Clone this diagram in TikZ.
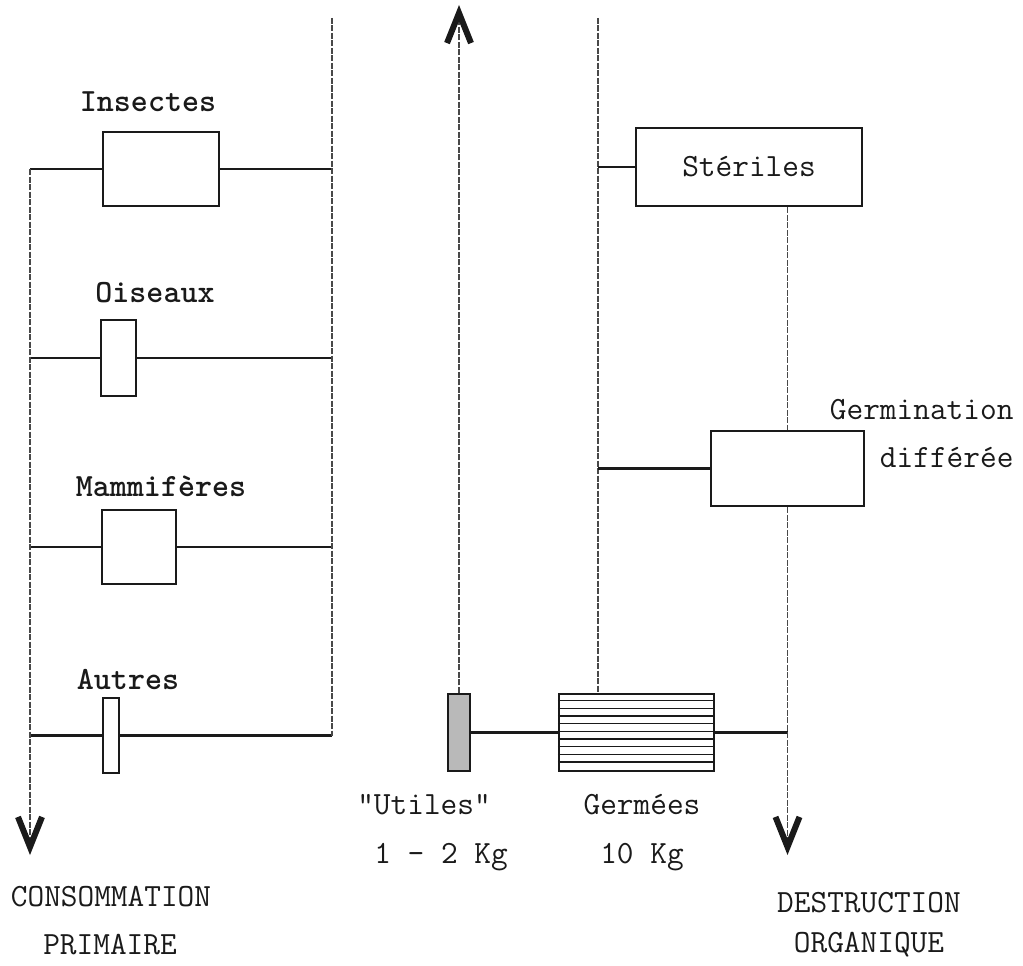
\documentclass[tikz,border=0pt]{standalone}
\usepackage{fontspec}
\usepackage{tikz}
\usetikzlibrary{arrows.meta}
\definecolor{ink}{HTML}{1A1A1A}
\begin{document}
\begin{tikzpicture}[x=1pt,y=-1pt,
  every node/.style={font=\ttfamily\fontsize{32.4}{38}\selectfont,text=ink},
  flowbox/.style={draw=ink,line width=2.5pt,rectangle,inner sep=0pt},
  hline/.style={draw=ink,line width=2.5pt},
  vline/.style={draw=ink!80,line width=1.4pt,dash pattern=on 6pt off 1.5pt},
  bigtip/.tip={Straight Barb[length=30pt,width=24pt,line width=6pt,color=ink]},
  lbl/.style={font=\ttfamily\bfseries\fontsize{32.4}{38}\selectfont}]
\useasboundingbox (0,0) rectangle (1023,966);
\node[flowbox,minimum width=116pt,minimum height=74pt] (ins) at (161,169) {};
\node[flowbox,minimum width=35pt,minimum height=76pt] (ois) at (118.5,358) {};
\node[flowbox,minimum width=74pt,minimum height=74pt] (mam) at (139,547) {};
\node[flowbox,minimum width=16pt,minimum height=75pt] (aut) at (111,735.5) {};
\node[flowbox,fill=gray!55,minimum width=22pt,minimum height=77pt] (ute) at (459,732.5) {};
\node[flowbox,minimum width=155pt,minimum height=77pt] (ger) at (636.5,732.5) {};
\node[flowbox,minimum width=226pt,minimum height=78pt] (ste) at (749,167) {St\'eriles};
\node[flowbox,minimum width=153pt,minimum height=75pt] (dif) at (787.5,468.5) {};
\node[lbl] (tins) at (148,102) {Insectes};
\node[lbl] (tois) at (155,293) {Oiseaux};
\node[lbl] (tmam) at (161,486) {Mammif\`eres};
\node[lbl] (taut) at (128,679) {Autres};
\node (tute) at (424,805) {"Utiles"};
\node (tkg1) at (441,857) {1 - 2 Kg};
\node (tger) at (642,805) {Germ\'ees};
\node (tkg2) at (642,857) {10 Kg};
\node[anchor=east] (tgm1) at (1017,410) {Germination};
\node[anchor=east] (tgm2) at (1017,458) {diff\'er\'ee};
\node (tcon) at (111,897) {CONSOMMATION};
\node (tpri) at (110,945) {PRIMAIRE};
\node (tdes) at (869,903) {DESTRUCTION};
\node (torg) at (869,945) {ORGANIQUE};
\coordinate (l1) at (30,169);
\coordinate (l2) at (30,358);
\coordinate (l3) at (30,547);
\coordinate (l4) at (30,735.5);
\coordinate (lend) at (30,855);
\coordinate (rtop) at (332,18);
\coordinate (r1) at (332,169);
\coordinate (r2) at (332,358);
\coordinate (r3) at (332,547);
\coordinate (r4) at (332,735.5);
\coordinate (utop) at (459,5);
\coordinate (gtop) at (598,18);
\coordinate (g1) at (598,167);
\coordinate (g2) at (598,468.5);
\coordinate (dend) at (787.5,855);
\foreach \k in {1,...,9}
  \draw[ink,line width=1.3pt] ([yshift=-\k*7.7pt]ger.north west) -- ([yshift=-\k*7.7pt]ger.north east);
\draw[hline] (l1) -- (ins.west);
\draw[hline] (ins.east) -- (r1);
\draw[hline] (l2) -- (ois.west);
\draw[hline] (ois.east) -- (r2);
\draw[hline] (l3) -- (mam.west);
\draw[hline] (mam.east) -- (r3);
\draw[hline] (l4) -- (aut.west);
\draw[hline] (aut.east) -- (r4);
\draw[vline,-bigtip] (l1) -- (lend);
\draw[vline] (rtop) -- (r4);
\draw[vline,-bigtip] (ute.north) -- (utop);
\draw[hline] (ute.east) -- (ger.west);
\draw[hline] (ger.east) -- (ger.east -| dif.south);
\draw[vline] (gtop) -- (gtop |- ger.north);
\draw[hline] (g1) -- (ste.west);
\draw[hline] (g2) -- (dif.west);
\draw[vline] (ste.south -| dif.north) -- (dif.north);
\draw[vline,-bigtip] (dif.south) -- (dend);
\end{tikzpicture}
\end{document}
